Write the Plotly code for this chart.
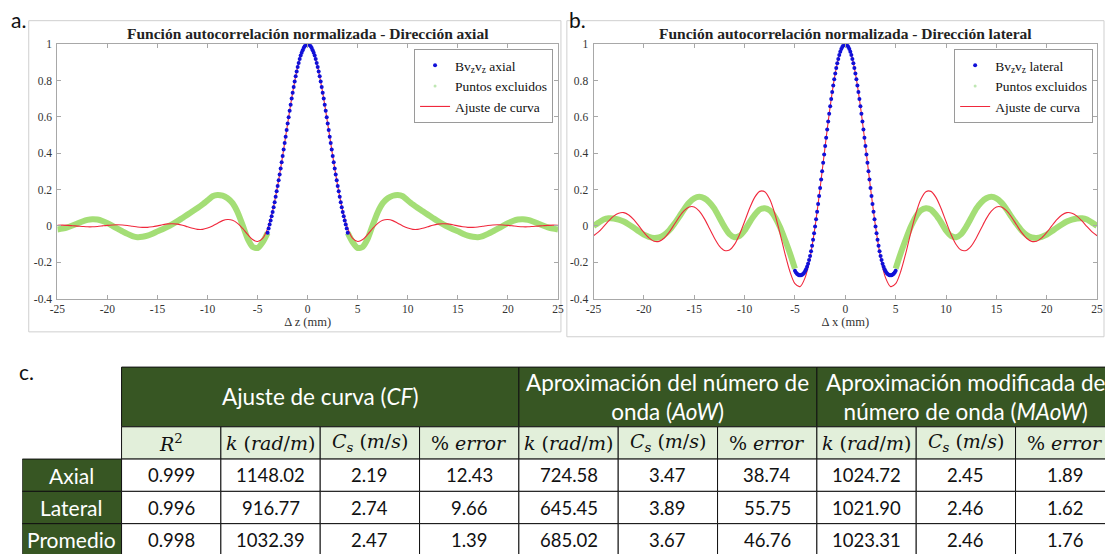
import plotly.graph_objects as go

# ---------------- DATA ----------------
# lag grid used for the fitted curves (mm)
lag_fit = [-25.0, -24.5, -24.0, -23.5, -23.0, -22.5, -22.0, -21.5, -21.0, -20.5,
           -20.0, -19.5, -19.0, -18.5, -18.0, -17.5, -17.0, -16.5, -16.0, -15.5,
           -15.0, -14.5, -14.0, -13.5, -13.0, -12.5, -12.0, -11.5, -11.0, -10.5,
           -10.0, -9.5, -9.0, -8.5, -8.0, -7.5, -7.0, -6.5, -6.0, -5.5,
           -5.0, -4.5, -4.0, -3.5, -3.0, -2.5, -2.0, -1.5, -1.0, -0.5,
           0.0, 0.5, 1.0, 1.5, 2.0, 2.5, 3.0, 3.5, 4.0, 4.5,
           5.0, 5.5, 6.0, 6.5, 7.0, 7.5, 8.0, 8.5, 9.0, 9.5,
           10.0, 10.5, 11.0, 11.5, 12.0, 12.5, 13.0, 13.5, 14.0, 14.5,
           15.0, 15.5, 16.0, 16.5, 17.0, 17.5, 18.0, 18.5, 19.0, 19.5,
           20.0, 20.5, 21.0, 21.5, 22.0, 22.5, 23.0, 23.5, 24.0, 24.5, 25.0]

fit_axial = [0.003, 0.004, 0.003, 0.001, -0.001, -0.003, -0.005, -0.005, -0.003, 0.000,
             0.003, 0.005, 0.006, 0.005, 0.002, -0.002, -0.006, -0.008, -0.008, -0.005,
             0.000, 0.006, 0.011, 0.012, 0.010, 0.004, -0.005, -0.013, -0.019, -0.019,
             -0.012, 0.000, 0.015, 0.029, 0.035, 0.031, 0.014, -0.014, -0.047, -0.075,
             -0.086, -0.069, -0.014, 0.083, 0.220, 0.385, 0.563, 0.733, 0.874, 0.967,
             1.000,
             0.967, 0.874, 0.733, 0.563, 0.385, 0.220, 0.083, -0.014, -0.069, -0.086,
             -0.075, -0.047, -0.014, 0.014, 0.031, 0.035, 0.029, 0.015, 0.000, -0.012,
             -0.019, -0.019, -0.013, -0.005, 0.004, 0.010, 0.012, 0.011, 0.006, 0.000,
             -0.005, -0.008, -0.008, -0.006, -0.002, 0.002, 0.005, 0.006, 0.005, 0.003,
             0.000, -0.003, -0.005, -0.005, -0.003, -0.001, 0.001, 0.003, 0.004, 0.003]

fit_lateral = [-0.054, -0.033, -0.004, 0.027, 0.054, 0.070, 0.073, 0.060, 0.034, 0.000,
               -0.036, -0.066, -0.084, -0.085, -0.068, -0.036, 0.006, 0.049, 0.084, 0.104,
               0.104, 0.081, 0.040, -0.013, -0.067, -0.111, -0.135, -0.133, -0.102, -0.047,
               0.024, 0.097, 0.157, 0.190, 0.188, 0.146, 0.067, -0.038, -0.151, -0.251,
               -0.318, -0.334, -0.286, -0.174, -0.003, 0.209, 0.439, 0.658, 0.839, 0.958,
               1.000,
               0.958, 0.839, 0.658, 0.439, 0.209, -0.003, -0.174, -0.286, -0.334, -0.318,
               -0.251, -0.151, -0.038, 0.067, 0.146, 0.188, 0.190, 0.157, 0.097, 0.024,
               -0.047, -0.102, -0.133, -0.135, -0.111, -0.067, -0.013, 0.040, 0.081, 0.104,
               0.104, 0.084, 0.049, 0.006, -0.036, -0.068, -0.085, -0.084, -0.066, -0.036,
               0.000, 0.034, 0.060, 0.073, 0.070, 0.054, 0.027, -0.004, -0.033, -0.054]

# points used for the fit (blue)
lag_used_axial = [-4.0, -3.9, -3.8, -3.7, -3.6, -3.5, -3.4, -3.3, -3.2, -3.1,
                  -3.0, -2.9, -2.8, -2.7, -2.6, -2.5, -2.4, -2.3, -2.2, -2.1,
                  -2.0, -1.9, -1.8, -1.7, -1.6, -1.5, -1.4, -1.3, -1.2, -1.1,
                  -1.0, -0.9, -0.8, -0.7, -0.6, -0.5, -0.4, -0.3, -0.2, -0.1,
                  0.0,
                  0.1, 0.2, 0.3, 0.4, 0.5, 0.6, 0.7, 0.8, 0.9, 1.0,
                  1.1, 1.2, 1.3, 1.4, 1.5, 1.6, 1.7, 1.8, 1.9, 2.0,
                  2.1, 2.2, 2.3, 2.4, 2.5, 2.6, 2.7, 2.8, 2.9, 3.0,
                  3.1, 3.2, 3.3, 3.4, 3.5, 3.6, 3.7, 3.8, 3.9, 4.0]
used_axial = [-0.038, -0.015, 0.008, 0.030, 0.053, 0.077, 0.103, 0.130, 0.161, 0.190,
              0.220, 0.251, 0.283, 0.316, 0.350, 0.385, 0.420, 0.456, 0.491, 0.527,
              0.563, 0.598, 0.633, 0.667, 0.701, 0.733, 0.764, 0.794, 0.823, 0.849,
              0.874, 0.897, 0.918, 0.937, 0.953, 0.967, 0.979, 0.988, 0.995, 0.999,
              1.000,
              0.999, 0.995, 0.988, 0.979, 0.967, 0.953, 0.937, 0.918, 0.897, 0.874,
              0.849, 0.823, 0.794, 0.764, 0.733, 0.701, 0.667, 0.633, 0.598, 0.563,
              0.527, 0.491, 0.456, 0.420, 0.385, 0.350, 0.316, 0.283, 0.251, 0.220,
              0.190, 0.161, 0.130, 0.103, 0.077, 0.053, 0.030, 0.008, -0.015, -0.038]

lag_used_lateral = [-5.0, -4.9, -4.8, -4.7, -4.6, -4.5, -4.4, -4.3, -4.2, -4.1,
                    -4.0, -3.9, -3.8, -3.7, -3.6, -3.5, -3.4, -3.3, -3.2, -3.1,
                    -3.0, -2.9, -2.8, -2.7, -2.6, -2.5, -2.4, -2.3, -2.2, -2.1,
                    -2.0, -1.9, -1.8, -1.7, -1.6, -1.5, -1.4, -1.3, -1.2, -1.1,
                    -1.0, -0.9, -0.8, -0.7, -0.6, -0.5, -0.4, -0.3, -0.2, -0.1,
                    0.0,
                    0.1, 0.2, 0.3, 0.4, 0.5, 0.6, 0.7, 0.8, 0.9, 1.0,
                    1.1, 1.2, 1.3, 1.4, 1.5, 1.6, 1.7, 1.8, 1.9, 2.0,
                    2.1, 2.2, 2.3, 2.4, 2.5, 2.6, 2.7, 2.8, 2.9, 3.0,
                    3.1, 3.2, 3.3, 3.4, 3.5, 3.6, 3.7, 3.8, 3.9, 4.0,
                    4.1, 4.2, 4.3, 4.4, 4.5, 4.6, 4.7, 4.8, 4.9, 5.0]
used_lateral = [-0.247, -0.256, -0.263, -0.268, -0.271, -0.272, -0.271, -0.269, -0.265, -0.259,
                -0.250, -0.239, -0.225, -0.208, -0.188, -0.165, -0.139, -0.109, -0.076, -0.041,
                -0.003, 0.037, 0.078, 0.121, 0.165, 0.209, 0.255, 0.301, 0.347, 0.393,
                0.439, 0.485, 0.530, 0.574, 0.617, 0.658, 0.698, 0.737, 0.773, 0.807,
                0.839, 0.869, 0.895, 0.919, 0.940, 0.958, 0.973, 0.985, 0.993, 0.998,
                1.000,
                0.998, 0.993, 0.985, 0.973, 0.958, 0.940, 0.919, 0.895, 0.869, 0.839,
                0.807, 0.773, 0.737, 0.698, 0.658, 0.617, 0.574, 0.530, 0.485, 0.439,
                0.393, 0.347, 0.301, 0.255, 0.209, 0.165, 0.121, 0.078, 0.037, -0.003,
                -0.041, -0.076, -0.109, -0.139, -0.165, -0.188, -0.208, -0.225, -0.239, -0.250,
                -0.259, -0.265, -0.269, -0.271, -0.272, -0.271, -0.268, -0.263, -0.256, -0.247]

# excluded points (green)
lag_excl_axial = [-25.0, -24.5, -24.0, -23.5, -23.0, -22.5, -22.0, -21.5, -21.0, -20.5,
                  -20.0, -19.5, -19.0, -18.5, -18.0, -17.5, -17.0, -16.5, -16.0, -15.5,
                  -15.0, -14.5, -14.0, -13.5, -13.0, -12.5, -12.0, -11.5, -11.0, -10.5,
                  -10.0, -9.5, -9.0, -8.5, -8.0, -7.5, -7.0, -6.5, -6.0, -5.5,
                  -5.0, -4.5, -4.0,
                  None,
                  4.0, 4.5, 5.0, 5.5, 6.0, 6.5, 7.0, 7.5, 8.0, 8.5,
                  9.0, 9.5, 10.0, 10.5, 11.0, 11.5, 12.0, 12.5, 13.0, 13.5,
                  14.0, 14.5, 15.0, 15.5, 16.0, 16.5, 17.0, 17.5, 18.0, 18.5,
                  19.0, 19.5, 20.0, 20.5, 21.0, 21.5, 22.0, 22.5, 23.0, 23.5,
                  24.0, 24.5, 25.0]
excl_axial = [-0.020, -0.015, -0.008, 0.002, 0.013, 0.024, 0.033, 0.037, 0.035, 0.027,
              0.015, 0.000, -0.015, -0.030, -0.044, -0.056, -0.062, -0.060, -0.054, -0.043,
              -0.030, -0.018, -0.005, 0.010, 0.026, 0.044, 0.062, 0.080, 0.098, 0.118,
              0.140, 0.163, 0.170, 0.166, 0.152, 0.125, 0.075, 0.005, -0.070, -0.115,
              -0.122, -0.090, -0.038,
              None,
              -0.038, -0.090, -0.122, -0.115, -0.070, 0.005, 0.075, 0.125, 0.152, 0.166,
              0.170, 0.163, 0.140, 0.118, 0.098, 0.080, 0.062, 0.044, 0.026, 0.010,
              -0.005, -0.018, -0.030, -0.043, -0.054, -0.060, -0.062, -0.056, -0.044, -0.030,
              -0.015, 0.000, 0.015, 0.027, 0.035, 0.037, 0.033, 0.024, 0.013, 0.002,
              -0.008, -0.015, -0.020]

lag_excl_lateral = [-25.0, -24.5, -24.0, -23.5, -23.0, -22.5, -22.0, -21.5, -21.0, -20.5,
                    -20.0, -19.5, -19.0, -18.5, -18.0, -17.5, -17.0, -16.5, -16.0, -15.5,
                    -15.0, -14.5, -14.0, -13.5, -13.0, -12.5, -12.0, -11.5, -11.0, -10.5,
                    -10.0, -9.5, -9.0, -8.5, -8.0, -7.5, -7.0, -6.5, -6.0, -5.5, -5.0,
                    None,
                    5.0, 5.5, 6.0, 6.5, 7.0, 7.5, 8.0, 8.5, 9.0, 9.5,
                    10.0, 10.5, 11.0, 11.5, 12.0, 12.5, 13.0, 13.5, 14.0, 14.5,
                    15.0, 15.5, 16.0, 16.5, 17.0, 17.5, 18.0, 18.5, 19.0, 19.5,
                    20.0, 20.5, 21.0, 21.5, 22.0, 22.5, 23.0, 23.5, 24.0, 24.5, 25.0]
excl_lateral = [0.000, 0.018, 0.035, 0.042, 0.041, 0.035, 0.024, 0.008, -0.010, -0.030,
                -0.048, -0.060, -0.066, -0.063, -0.050, -0.025, 0.010, 0.050, 0.092, 0.128,
                0.152, 0.160, 0.152, 0.130, 0.095, 0.045, -0.005, -0.045, -0.062, -0.055,
                -0.025, 0.020, 0.060, 0.090, 0.097, 0.085, 0.050, -0.005, -0.075, -0.150, -0.235,
                None,
                -0.235, -0.150, -0.075, -0.005, 0.050, 0.085, 0.097, 0.090, 0.060, 0.020,
                -0.025, -0.055, -0.062, -0.045, -0.005, 0.045, 0.095, 0.130, 0.152, 0.160,
                0.152, 0.128, 0.092, 0.050, 0.010, -0.025, -0.050, -0.063, -0.066, -0.060,
                -0.048, -0.030, -0.010, 0.008, 0.024, 0.035, 0.041, 0.042, 0.035, 0.018, 0.000]

x_ticks = [-25, -20, -15, -10, -5, 0, 5, 10, 15, 20, 25]
x_tick_labels = ["-25", "-20", "-15", "-10", "-5", "0", "5", "10", "15", "20", "25"]
y_ticks = [-0.4, -0.2, 0, 0.2, 0.4, 0.6, 0.8, 1]
y_tick_labels = ["-0.4", "-0.2", "0", "0.2", "0.4", "0.6", "0.8", "1"]

# ---------------- TABLE DATA ----------------
row_labels = ["Axial", "Lateral", "Promedio"]
group_headers = ["Ajuste de curva (<i>CF</i>)",
                 "Aproximación del número de<br>onda (<i>AoW</i>)",
                 "Aproximación modificada de<br>número de onda (<i>MAoW</i>)"]
group_spans = [4, 3, 3]
sub_headers = ["<i>R</i><sup>2</sup>", "<i>k</i> (<i>rad</i>/<i>m</i>)", "<i>C<sub>s</sub></i> (<i>m</i>/<i>s</i>)", "% <i>error</i>",
               "<i>k</i> (<i>rad</i>/<i>m</i>)", "<i>C<sub>s</sub></i> (<i>m</i>/<i>s</i>)", "% <i>error</i>",
               "<i>k</i> (<i>rad</i>/<i>m</i>)", "<i>C<sub>s</sub></i> (<i>m</i>/<i>s</i>)", "% <i>error</i>"]
cf_r2 = [0.999, 0.996, 0.998]
cf_k = [1148.02, 916.77, 1032.39]
cf_cs = [2.19, 2.74, 2.47]
cf_err = [12.43, 9.66, 1.39]
aow_k = [724.58, 645.45, 685.02]
aow_cs = [3.47, 3.89, 3.67]
aow_err = [38.74, 55.75, 46.76]
maow_k = [1024.72, 1021.90, 1023.31]
maow_cs = [2.45, 2.46, 2.46]
maow_err = [1.89, 1.62, 1.76]

# ---------------- STYLE ----------------
W, H = 1111, 560
SERIF = "Liberation Serif"
SANS = "Lato"
GREEN = "rgba(125,208,60,0.7)"
RED = "#f0283c"
BLUE = "#1010d8"
AXC = "#a8a8a8"
DARK_GREEN = "#375623"
LIGHT_GREEN = "#e2efda"


def px_x(p):
    return p / W


def px_y(p):
    return 1 - p / H


fig = go.Figure()

panels = [
    dict(xa="x", ya="y", leg="legend", lag_ex=lag_excl_axial, ex=excl_axial, fit=fit_axial,
         lag_u=lag_used_axial, used=used_axial, name="Bv<sub>z</sub>v<sub>z</sub> axial", grp="a"),
    dict(xa="x2", ya="y2", leg="legend2", lag_ex=lag_excl_lateral, ex=excl_lateral, fit=fit_lateral,
         lag_u=lag_used_lateral, used=used_lateral, name="Bv<sub>z</sub>v<sub>z</sub> lateral", grp="b"),
]

for p in panels:
    fig.add_trace(go.Scatter(x=p["lag_ex"], y=p["ex"], mode="lines", xaxis=p["xa"], yaxis=p["ya"],
                             line=dict(color=GREEN, width=6, shape="spline", smoothing=0.6),
                             showlegend=False, legendgroup="ex" + p["grp"], legend=p["leg"],
                             hoverinfo="skip"))
    fig.add_trace(go.Scatter(x=[None], y=[None], mode="markers", xaxis=p["xa"], yaxis=p["ya"],
                             marker=dict(color="rgba(175,225,160,0.8)", size=3),
                             name="Puntos excluidos", legendgroup="ex" + p["grp"], legend=p["leg"],
                             legendrank=2))
    fig.add_trace(go.Scatter(x=lag_fit, y=p["fit"], mode="lines", xaxis=p["xa"], yaxis=p["ya"],
                             line=dict(color=RED, width=1.1, shape="spline", smoothing=0.8),
                             name="Ajuste de curva", legend=p["leg"], legendrank=3))
    fig.add_trace(go.Scatter(x=p["lag_u"], y=p["used"], mode="markers", xaxis=p["xa"], yaxis=p["ya"],
                             marker=dict(color=BLUE, size=4),
                             name=p["name"], legend=p["leg"], legendrank=1))

axis_common = dict(showgrid=False, zeroline=False, showline=True, mirror="ticks",
                   linecolor=AXC, linewidth=1, ticks="inside", ticklen=4, tickcolor=AXC,
                   tickfont=dict(family=SERIF, size=11.5, color="#333"))

legend_common = dict(xanchor="right", y=px_y(44), yanchor="top",
                     bgcolor="white", bordercolor="#9a9a9a", borderwidth=1,
                     font=dict(family=SERIF, size=13.5, color="#111"), itemsizing="trace",
                     tracegroupgap=0)

layout = dict(
    width=W, height=H, autosize=False,
    margin=dict(l=0, r=0, t=0, b=0),
    paper_bgcolor="white", plot_bgcolor="white",
    xaxis=dict(domain=[px_x(50), px_x(557)], range=[-25, 25], anchor="y",
               tickvals=x_ticks, ticktext=x_tick_labels,
               title=dict(text="Δ z (mm)", font=dict(family=SERIF, size=12.5, color="#333"), standoff=2),
               **axis_common),
    yaxis=dict(domain=[px_y(299), px_y(39)], range=[-0.4, 1], anchor="x",
               tickvals=y_ticks, ticktext=y_tick_labels, ticklabelstandoff=2, **axis_common),
    xaxis2=dict(domain=[px_x(593), px_x(1103)], range=[-25, 25], anchor="y2",
                tickvals=x_ticks, ticktext=x_tick_labels,
                title=dict(text="Δ x (mm)", font=dict(family=SERIF, size=12.5, color="#333"), standoff=2),
                **axis_common),
    yaxis2=dict(domain=[px_y(299), px_y(39)], range=[-0.4, 1], anchor="x2",
                tickvals=y_ticks, ticktext=y_tick_labels, ticklabelstandoff=2, **axis_common),
    # hidden axes that carry the table grid: x = column index, y = pixel rows from table top
    xaxis3=dict(domain=[px_x(14.4), 1.0], range=[-0.5, -0.5 + (W - 14.4) / 100.6], anchor="y3",
                visible=False, fixedrange=True),
    yaxis3=dict(domain=[0, (H - 368) / H], range=[191, -1], anchor="x3",
                visible=False, fixedrange=True),
    legend=dict(x=px_x(552), **legend_common),
    legend2=dict(x=px_x(1099), **legend_common),
)

shapes = []
annotations = []

# panel frames
shapes.append(dict(type="rect", xref="paper", yref="paper", x0=px_x(21), x1=px_x(560),
                   y0=px_y(333), y1=px_y(15), line=dict(color="#cfcfcf", width=1), layer="below"))
shapes.append(dict(type="rect", xref="paper", yref="paper", x0=px_x(566), x1=px_x(1110),
                   y0=px_y(338), y1=px_y(15), line=dict(color="#cfcfcf", width=1), layer="below"))

# panel letters
for txt, x, y in [("a.", 1, 14), ("b.", 566, 14), ("c.", 9, 374)]:
    annotations.append(dict(text=txt, xref="paper", yref="paper", x=px_x(x), y=px_y(y),
                            xanchor="left", yanchor="middle", showarrow=False,
                            font=dict(family=SANS, size=21, color="#111")))

# titles
for txt, xc in [("Función autocorrelación normalizada - Dirección axial", (50 + 557) / 2),
                ("Función autocorrelación normalizada - Dirección lateral", (593 + 1103) / 2)]:
    annotations.append(dict(text="<b>" + txt + "</b>", xref="paper", yref="paper",
                            x=px_x(xc), y=px_y(28), xanchor="center", yanchor="middle",
                            showarrow=False, font=dict(family=SERIF, size=15.5, color="#222")))

# ---------------- TABLE (drawn on x3/y3) ----------------
row_edges = [0, 61, 94, 127, 160, 193]   # header1, header2, 3 body rows
columns = [cf_r2, cf_k, cf_cs, cf_err, aow_k, aow_cs, aow_err, maow_k, maow_cs, maow_err]


def cell(c0, c1, r, fill):
    shapes.append(dict(type="rect", xref="x3", yref="y3", x0=c0 - 0.5, x1=c1 + 0.5,
                       y0=row_edges[r], y1=row_edges[r + 1], fillcolor=fill,
                       line=dict(color="#111", width=1), layer="above"))


def text(x, r, s, size, color, family=SANS):
    annotations.append(dict(text=s, xref="x3", yref="y3", x=x,
                            y=(row_edges[r] + row_edges[r + 1]) / 2,
                            xanchor="center", yanchor="middle", showarrow=False,
                            font=dict(family=family, size=size, color=color)))


start = 1
for g, span in zip(group_headers, group_spans):
    end = start + span - 1
    cell(start, end, 0, DARK_GREEN)
    text((start + end) / 2, 0, g, 22.5, "white")
    start = end + 1

for c, s in enumerate(sub_headers, start=1):
    cell(c, c, 1, LIGHT_GREEN)
    text(c, 1, s, 19, "#111", family="DejaVu Serif")

for r, lab in enumerate(row_labels):
    cell(0, 0, r + 2, DARK_GREEN)
    text(0, r + 2, lab, 21, "white")
    for c, col in enumerate(columns, start=1):
        cell(c, c, r + 2, "white")
        fmt = "{:.3f}" if c == 1 else "{:.2f}"
        text(c, r + 2, fmt.format(col[r]), 18.5, "#111")

layout["shapes"] = shapes
layout["annotations"] = annotations
fig.update_layout(**layout)

fig.write_html("out.html")
